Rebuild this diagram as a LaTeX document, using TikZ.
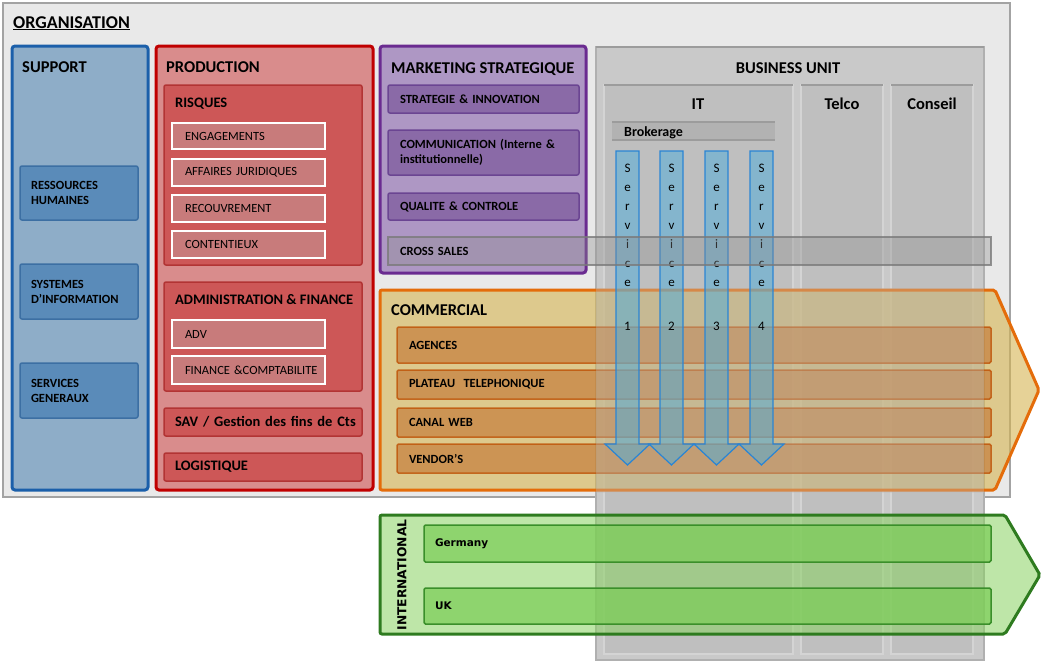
\documentclass[tikz,border=0pt]{standalone}
\usepackage{fontspec}
\setmainfont{Carlito}
\newfontfamily\tahfont{DejaVu Sans}
\definecolor{orgfill}{HTML}{E9E9E9}
\definecolor{orgdraw}{HTML}{A3A3A3}
\definecolor{supfill}{HTML}{8EADC8}
\definecolor{supdraw}{HTML}{1B5FAA}
\definecolor{supsub}{HTML}{5A8BB9}
\definecolor{supsubdraw}{HTML}{3C6FA3}
\definecolor{prodfill}{HTML}{D98C8C}
\definecolor{proddraw}{HTML}{C00000}
\definecolor{prodin}{HTML}{CD5757}
\definecolor{prodindraw}{HTML}{B23434}
\definecolor{prodsub}{HTML}{C87B7B}
\definecolor{mktfill}{HTML}{AE97C4}
\definecolor{mktdraw}{HTML}{6A2B90}
\definecolor{mktsub}{HTML}{8A6AA7}
\definecolor{mktsubdraw}{HTML}{6B4592}
\definecolor{bufill}{HTML}{C9C9C9}
\definecolor{budraw}{HTML}{B0B0B0}
\definecolor{colfill}{HTML}{BFBFBF}
\definecolor{coldraw}{HTML}{D4D4D4}
\definecolor{coltopc}{HTML}{9C9C9C}
\definecolor{brokfill}{HTML}{B2B2B2}
\definecolor{comfill}{RGB}{213,180,81}
\definecolor{combar}{RGB}{194,113,47}
\definecolor{comdraw}{HTML}{E46C0A}
\definecolor{combardraw}{HTML}{C0580C}
\definecolor{grfill}{RGB}{137,210,97}
\definecolor{grbar}{RGB}{123,204,87}
\definecolor{grdraw}{HTML}{2E7B1F}
\definecolor{grbardraw}{HTML}{3A8F2A}
\definecolor{svcfill}{HTML}{4BADDC}
\definecolor{svcdraw}{HTML}{2A85D4}
\definecolor{csfill}{HTML}{8C8C8C}
\definecolor{csdraw}{HTML}{7A7A7A}
\definecolor{veil}{HTML}{BDBDBD}
\tikzset{
  box/.style={draw, inner sep=0pt, outer sep=0pt, anchor=north west},
  ttl/.style={anchor=base west, inner sep=0pt, font=\bfseries\fontsize{16.5}{19}\selectfont},
  ttlb/.style={anchor=base west, inner sep=0pt, font=\bfseries\fontsize{14.5}{17}\selectfont},
  ssub/.style={box, fill=supsub, draw=supsubdraw, line width=1.5, rounded corners=2,
    minimum width=118, text width=96, inner xsep=11, align=left,
    font=\bfseries\fontsize{12.5}{15}\selectfont},
  pin/.style={box, fill=prodin, draw=prodindraw, line width=1.5, rounded corners=2,
    minimum width=198, text width=176, inner xsep=11, align=left,
    font=\bfseries\fontsize{14.5}{17}\selectfont},
  rsub/.style={box, fill=prodsub, draw=white, line width=1.5,
    minimum width=153, text width=127, inner xsep=13, align=left,
    font=\fontsize{12.5}{15}\selectfont},
  msub/.style={box, fill=mktsub, draw=mktsubdraw, line width=1.5, rounded corners=2,
    minimum width=191, text width=167, inner xsep=12, align=left,
    font=\bfseries\fontsize{12.5}{15}\selectfont},
  colbox/.style={box, fill=colfill, draw=coldraw, line width=2, minimum height=569},
  coltop/.style={draw=coltopc, line width=1.5},
  commarrow/.style={fill=comfill, fill opacity=.6, draw=comdraw, line width=3, rounded corners=2},
  cbar/.style={box, fill=combar, fill opacity=.6, text opacity=1, draw=combardraw, draw opacity=.85,
    line width=1.5, rounded corners=1.5, minimum width=594, text width=570, inner xsep=12,
    align=left, font=\bfseries\fontsize{12.5}{15}\selectfont},
  intlarrow/.style={fill=grfill, fill opacity=.55, draw=grdraw, line width=3, rounded corners=2},
  gbar/.style={box, fill=grbar, fill opacity=.7, text opacity=1, draw=grbardraw,
    line width=1.5, rounded corners=1.5, minimum width=567, text width=545, inner xsep=11,
    align=left, font=\tahfont\bfseries\fontsize{10.5}{13}\selectfont},
  svc/.style={fill=svcfill, fill opacity=.5, draw=svcdraw, line width=1.2},
  svctxt/.style={anchor=north, align=center, inner sep=0pt, font=\fontsize{13}{19}\selectfont},
}
\begin{document}
\begin{tikzpicture}[x=1pt,y=-1pt]
\useasboundingbox (0,0) rectangle (1042,665);
% organisation
\node[box, fill=orgfill, draw=orgdraw, line width=2, minimum width=1007, minimum height=494] (org) at (3,3) {};
\node[ttl, font=\bfseries\fontsize{18}{20}\selectfont] (orgt) at (13,28) {\underline{ORGANISATION}};
% support
\node[box, fill=supfill, draw=supdraw, line width=3, rounded corners=3, minimum width=136, minimum height=444] (sup) at (12,46) {};
\node[ttl] (supt) at (22,72) {SUPPORT};
\node[ssub, minimum height=54] (rh) at (20,166) {RESSOURCES\\HUMAINES};
\node[ssub, minimum height=55] (si) at (20,264) {SYSTEMES\\D'INFORMATION};
\node[ssub, minimum height=55] (sg) at (20,363) {SERVICES\\GENERAUX};
% production
\node[box, fill=prodfill, draw=proddraw, line width=3, rounded corners=3, minimum width=217, minimum height=444] (prod) at (156,46) {};
\node[ttl] (prodt) at (166,72) {PRODUCTION};
\node[pin, minimum height=180] (ris) at (164,85) {};
\node[ttlb] (rist) at (175,107.5) {RISQUES};
\node[rsub, minimum height=26] (eng) at (172,123) {ENGAGEMENTS};
\node[rsub, minimum height=27] (aj) at (172,159) {AFFAIRES JURIDIQUES};
\node[rsub, minimum height=27] (rec) at (172,195) {RECOUVREMENT};
\node[rsub, minimum height=27] (cont) at (172,231) {CONTENTIEUX};
\node[pin, minimum height=109] (adm) at (164,282) {};
\node[ttlb] (admt) at (175,304.5) {ADMINISTRATION \& FINANCE};
\node[rsub, minimum height=28] (adv) at (172,320) {ADV};
\node[rsub, minimum height=28] (fin) at (172,356) {\mbox{FINANCE \&COMPTABILITE}};
\node[pin, minimum height=28] (sav) at (164,408) {\mbox{SAV / Gestion des fins de Cts}};
\node[pin, minimum height=28] (logi) at (164,453) {LOGISTIQUE};
% marketing
\node[box, fill=mktfill, draw=mktdraw, line width=3, rounded corners=3, minimum width=206, minimum height=227] (mkt) at (380,46) {};
\node[ttl] (mktt) at (391,73.5) {MARKETING STRATEGIQUE};
\node[msub, minimum height=28] (strat) at (388,85) {STRATEGIE \& INNOVATION};
\node[msub, minimum height=45] (comm) at (388,130) {COMMUNICATION (Interne \&\\institutionnelle)};
\node[msub, minimum height=27] (qual) at (388,193) {QUALITE \& CONTROLE};
% business unit
\node[box, fill=bufill, draw=budraw, line width=2, minimum width=388, minimum height=613] (bu) at (596,47) {};
\draw[coltop] (bu.north west) -- (bu.north east);
\node[ttl, anchor=base] (but) at (788,73.5) {BUSINESS UNIT};
\node[colbox, minimum width=189] (it) at (604,85) {};
\node[colbox, minimum width=82] (telco) at (801,85) {};
\node[colbox, minimum width=82] (cons) at (891,85) {};
\draw[coltop] (it.north west) -- (it.north east);
\draw[coltop] (telco.north west) -- (telco.north east);
\draw[coltop] (cons.north west) -- (cons.north east);
\node[ttl, anchor=base] (itt) at (698,109.5) {IT};
\node[ttl, anchor=base] (telt) at (842,109.5) {Telco};
\node[ttl, anchor=base] (const) at (932,109.5) {Conseil};
\node[box, fill=brokfill, draw=none, minimum width=163, minimum height=18] (brok) at (612,122) {};
\draw[coltop] (brok.north west) -- (brok.north east);
\draw[coltop] (brok.south west) -- (brok.south east);
\node[ttlb, font=\bfseries\fontsize{14}{16}\selectfont] (brokt) at (624,136.5) {Brokerage};
% commercial
\draw[commarrow] (380,290) -- (995,290) -- (1039,390) -- (995,490) -- (380,490) -- cycle;
\node[ttl] (comt) at (391,315.5) {COMMERCIAL};
\node[cbar, minimum height=36] (ag) at (397,327) {AGENCES};
\node[cbar, minimum height=29] (pt) at (397,370) {PLATEAU\ \ TELEPHONIQUE};
\node[cbar, minimum height=29] (cw) at (397,408) {CANAL WEB};
\node[cbar, minimum height=29] (vd) at (397,444) {VENDOR'S};
% grey veil of the business unit over the commercial arrow
\begin{scope}
  \clip (380,288) rectangle (1040,492);
  \fill[veil, opacity=.35] (bu.north west) rectangle (bu.south east);
\end{scope}
% international
\draw[intlarrow] (380,515) -- (1005,515) -- (1040,575) -- (1005,634) -- (380,634) -- cycle;
\node[rotate=90, inner sep=0pt, font=\tahfont\bfseries\fontsize{12.3}{14}\selectfont] (intt) at (402,575) {INTERNATIONAL};
\node[gbar, minimum height=37] (ger) at (424,525) {Germany};
\node[gbar, minimum height=36] (uk) at (424,588) {UK};
% services
\foreach \x/\n in {616/1,660/2,705/3,750/4}{
  \draw[svc] (\x,151) -- ({\x+23},151) -- ({\x+23},444) -- ({\x+34},444) -- ({\x+11.5},465) -- ({\x-11},444) -- (\x,444) -- cycle;
  \node[svctxt] (s\n) at ({\x+11.5},163.5) {S\\e\\r\\v\\i\\c\\e\\[25pt]\n};
}
% cross sales
\node[box, fill=csfill, fill opacity=.35, text opacity=1, draw=csdraw, draw opacity=.8, line width=1.5,
  minimum width=603, minimum height=28, text width=579, inner xsep=12, align=left,
  font=\bfseries\fontsize{12.5}{15}\selectfont] (cs) at (388,237) {CROSS SALES};
\end{tikzpicture}
\end{document}
